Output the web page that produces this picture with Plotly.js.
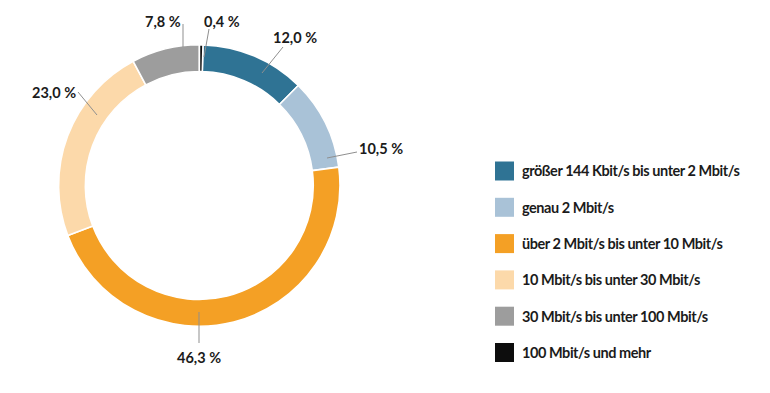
<!DOCTYPE html>
<html><head><meta charset="utf-8">
<script src="https://cdn.plot.ly/plotly-3.0.1.min.js"></script>
<style>html,body{margin:0;padding:0;background:#fff}#chart{width:770px;height:393px}
.annotation-text{letter-spacing:-0.45px}</style>
</head><body><div id="chart"></div>
<script>
// ---- data ----
const categories = [
  "größer 144 Kbit/s bis unter 2 Mbit/s",
  "genau 2 Mbit/s",
  "über 2 Mbit/s bis unter 10 Mbit/s",
  "10 Mbit/s bis unter 30 Mbit/s",
  "30 Mbit/s bis unter 100 Mbit/s",
  "100 Mbit/s und mehr"
];
const values = [12.0, 10.5, 46.3, 23.0, 7.8, 0.4];
const valueLabels = values.map(v => v.toFixed(1).replace('.', ',') + '\u202F%');

// ---- styles / positions (pixels) ----
const colors = ["#2f7394", "#a9c2d7", "#f4a025", "#fcd9aa", "#9d9d9d", "#0d0d0d"];
const W = 770, H = 393;
const cx = 199.3, cy = 185.5, R = 140.7;
// label text centers and leader lines [x1,y1,x2,y2]
const labelPos = [[295, 37], [381, 148], [199, 357], [54, 92], [163, 22], [222, 22]];
const leaders = [[262,73,283,47],[327,158,357,152],[199,312,199,343],[97,115,78,92],[183,47,183,24],[204,57,209,29]];
const legX = 495, legY0 = 171, legStep = 36.3, legSq = 19;
const FONT = "Lato, 'Noto Sans', sans-serif";
const TXT = "#1b1b1b";

const px = x => x / W, py = y => 1 - y / H;

const trace = {
  type: 'pie',
  values: values,
  labels: categories,
  sort: false,
  direction: 'clockwise',
  rotation: 1.5,
  hole: 0.81,
  textinfo: 'none',
  hoverinfo: 'label+value',
  marker: {colors: colors, line: {color: '#ffffff', width: 1.6}},
  domain: {x: [px(cx - R), px(cx + R)], y: [py(cy + R), py(cy - R)]},
  showlegend: false
};

const annotations = [];
const shapes = [];
values.forEach((v, i) => {
  annotations.push({
    xref: 'paper', yref: 'paper', x: px(labelPos[i][0]), y: py(labelPos[i][1]),
    text: valueLabels[i], showarrow: false, xanchor: 'center', yanchor: 'middle',
    font: {family: FONT, size: 14.5, color: TXT, weight: 'bold'}
  });
  const l = leaders[i];
  shapes.push({type: 'line', xref: 'paper', yref: 'paper',
    x0: px(l[0]), y0: py(l[1]), x1: px(l[2]), y1: py(l[3]),
    line: {color: '#8f8f8f', width: 1}});
});
categories.forEach((c, i) => {
  const yc = legY0 + i * legStep;
  shapes.push({type: 'rect', xref: 'paper', yref: 'paper',
    x0: px(legX), x1: px(legX + legSq), y0: py(yc + legSq / 2), y1: py(yc - legSq / 2),
    fillcolor: colors[i], line: {width: 0}});
  annotations.push({
    xref: 'paper', yref: 'paper', x: px(legX + legSq + 6), y: py(yc),
    text: c, showarrow: false, xanchor: 'left', yanchor: 'middle',
    font: {family: FONT, size: 14.5, color: TXT, weight: 'bold'}
  });
});

const layout = {
  width: W, height: H,
  margin: {l: 0, r: 0, t: 0, b: 0},
  paper_bgcolor: '#ffffff',
  showlegend: false,
  annotations: annotations,
  shapes: shapes,
  font: {family: FONT}
};
Plotly.newPlot('chart', [trace], layout, {displayModeBar: false, staticPlot: true});
</script></body></html>
